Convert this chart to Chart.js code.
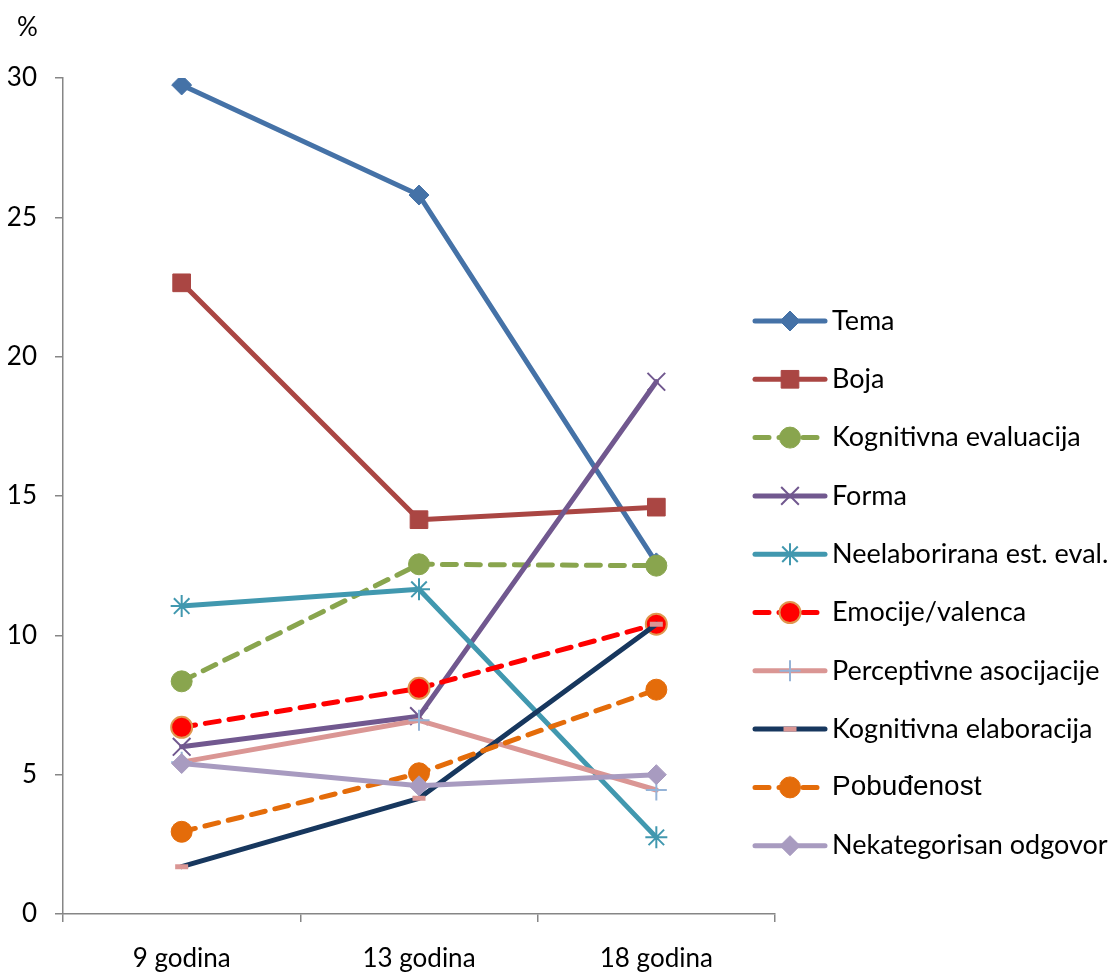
<!DOCTYPE html>
<html lang="sr">
<head>
  <meta charset="UTF-8">
  <title>Kategorije odgovora po uzrastu</title>
  <script src="https://cdn.jsdelivr.net/npm/chart.js"></script>
  <style>
    html, body { margin: 0; padding: 0; background: #fff; }
    #wrap { width: 1117px; height: 974px; }
  </style>
</head>
<body>
  <div id="wrap"><canvas id="chart" width="1117" height="974"></canvas></div>
  <script>
    const categories = ['9 godina', '13 godina', '18 godina'];
    const yTicks = [0, 5, 10, 15, 20, 25, 30];

    const seriesNames = [
      'Tema', 'Boja', 'Kognitivna evaluacija', 'Forma', 'Neelaborirana est. eval.',
      'Emocije/valenca', 'Perceptivne asocijacije', 'Kognitivna elaboracija',
      'Pobuđenost', 'Nekategorisan odgovor'
    ];

    const tema        = [29.75, 25.8, 12.6];
    const boja        = [22.65, 14.15, 14.6];
    const kogEval     = [8.35, 12.55, 12.5];
    const forma       = [6.0, 7.1, 19.1];
    const neelab      = [11.05, 11.65, 2.75];
    const emocije     = [6.7, 8.1, 10.4];
    const perceptivne = [5.45, 6.95, 4.45];
    const kogElab     = [1.7, 4.15, 10.4];
    const pobudjenost = [2.95, 5.05, 8.05];
    const nekateg     = [5.4, 4.6, 5.0];

    const values = [tema, boja, kogEval, forma, neelab, emocije, perceptivne, kogElab, pobudjenost, nekateg];

    // look of each series (line colour, dash, marker)
    const styles = [
      { color: '#4572A7', style: 'rectRot', r: 10, fill: '#4572A7', stroke: '#4572A7', bw: 1 },
      { color: '#AA4643', style: 'rect', r: 12.5, fill: '#AA4643', stroke: '#AA4643', bw: 1 },
      { color: '#89A54E', dash: [14, 10], style: 'circle', r: 10.5, fill: '#89A54E', stroke: '#89A54E', bw: 1 },
      { color: '#71588F', style: 'crossRot', r: 12.5, fill: '#71588F', stroke: '#71588F', bw: 2 },
      { color: '#4198AF', style: 'star', r: 11, fill: '#4198AF', stroke: '#4198AF', bw: 2 },
      { color: '#FF0000', dash: [14, 10], style: 'circle', r: 10.5, fill: '#FF0000', stroke: '#E0974F', bw: 2 },
      { color: '#DA9694', style: 'cross', r: 10.5, fill: '#95B3D7', stroke: '#95B3D7', bw: 2 },
      { color: '#17375E', style: 'line', r: 6.5, fill: '#DA9694', stroke: '#DA9694', bw: 5 },
      { color: '#E46C0A', dash: [14, 10], style: 'circle', r: 10.5, fill: '#E46C0A', stroke: '#E46C0A', bw: 1 },
      { color: '#A89BC0', style: 'rectRot', r: 10, fill: '#A89BC0', stroke: '#A89BC0', bw: 1 }
    ];

    const font = 'Lato';
    const N = values.length;

    const datasets = values.map((v, i) => ({
      label: seriesNames[i],
      data: v,
      borderColor: styles[i].color,
      backgroundColor: styles[i].color,
      borderWidth: 5,
      borderDash: styles[i].dash || [],
      borderCapStyle: 'round',
      borderJoinStyle: 'round',
      tension: 0,
      pointStyle: styles[i].style,
      pointRadius: styles[i].r,
      pointHoverRadius: styles[i].r,
      pointBackgroundColor: styles[i].fill,
      pointBorderColor: styles[i].stroke,
      pointBorderWidth: styles[i].bw,
      order: N - i
    }));

    // legend and "%" drawn by hand, to get line samples with markers
    const sideLegend = {
      id: 'sideLegend',
      afterDraw(chart) {
        const ctx = chart.ctx;
        const area = chart.chartArea;
        const x0 = area.right - 20, x1 = area.right + 50, tx = area.right + 57;
        const yStart = 321, step = 58.3;

        ctx.save();
        ctx.fillStyle = '#000';
        ctx.font = '26px ' + font;
        ctx.textBaseline = 'middle';
        ctx.textAlign = 'left';
        ctx.fillText('%', 17, 28);

        chart.data.datasets.forEach((ds, i) => {
          const y = yStart + i * step;
          const s = styles[i];
          ctx.save();
          ctx.strokeStyle = s.color;
          ctx.lineWidth = 5;
          ctx.lineCap = 'round';
          ctx.setLineDash(s.dash || []);
          ctx.beginPath();
          ctx.moveTo(x0, y);
          ctx.lineTo(x1, y);
          ctx.stroke();
          ctx.setLineDash([]);
          ctx.fillStyle = s.fill;
          ctx.strokeStyle = s.stroke;
          ctx.lineWidth = s.bw;
          ctx.lineCap = 'butt';
          Chart.helpers.drawPoint(ctx, { pointStyle: s.style, radius: s.r, rotation: 0, borderWidth: s.bw }, (x0 + x1) / 2, y);
          ctx.restore();

          ctx.fillStyle = '#000';
          if (ds.label === 'Pobuđenost') {
            ctx.font = '28px "Liberation Sans"';
          } else {
            ctx.font = '27px ' + font;
          }
          ctx.fillText(ds.label, tx, y);
        });
        ctx.restore();
      }
    };

    new Chart(document.getElementById('chart'), {
      type: 'line',
      data: { labels: categories, datasets: datasets },
      options: {
        responsive: false,
        animation: false,
        layout: { padding: { top: 78, right: 342, bottom: 0, left: 0 } },
        plugins: {
          legend: { display: false },
          tooltip: { enabled: false }
        },
        scales: {
          x: {
            offset: true,
            grid: {
              offset: true,
              drawOnChartArea: false,
              drawTicks: true,
              tickLength: 8,
              color: '#868686',
              lineWidth: 1.5
            },
            border: { color: '#868686', width: 1.5 },
            ticks: {
              color: '#000',
              font: { family: font, size: 26 },
              padding: 21,
              maxRotation: 0
            },
            afterFit(scale) { scale.height = 60; }
          },
          y: {
            min: 0,
            max: 30,
            afterBuildTicks(scale) { scale.ticks = yTicks.map(v => ({ value: v })); },
            grid: {
              drawOnChartArea: false,
              drawTicks: true,
              tickLength: 8,
              color: '#868686',
              lineWidth: 1.5
            },
            border: { color: '#868686', width: 1.5 },
            ticks: {
              color: '#000',
              font: { family: font, size: 26 },
              padding: 18
            },
            afterFit(scale) { scale.width = 63; }
          }
        }
      },
      plugins: [sideLegend]
    });
  </script>
</body>
</html>
